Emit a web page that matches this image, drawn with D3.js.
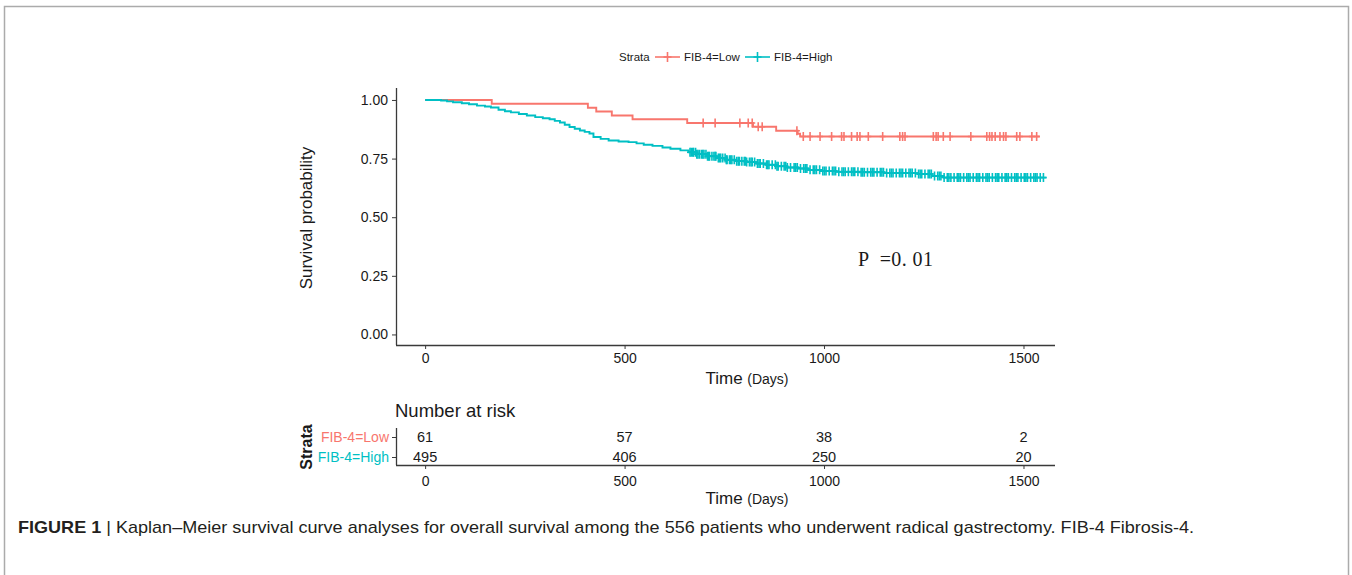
<!DOCTYPE html>
<html>
<head>
<meta charset="utf-8">
<script src="https://cdn.jsdelivr.net/npm/d3@7"></script>
<style>
  body { margin: 0; background: #fff; }
  svg { font-family: "Liberation Sans", Arial, sans-serif; }
</style>
</head>
<body>
<div id="chart"></div>
<script>
// ---- data ----
var strata = ["FIB-4=Low", "FIB-4=High"];
var colors = ["#F8766D", "#00BFC4"];

// step points (time, survival)
var lowTimes = [0, 167, 408, 429, 468, 520, 657, 822, 880, 934, 940];
var lowSurv  = [1.0, 0.984, 0.967, 0.951, 0.934, 0.918, 0.902, 0.886, 0.869, 0.856, 0.844];
var lowEnd = 1541;
var lowCensor = [697, 727, 789, 810, 820, 835, 845, 932, 948, 965, 990, 1019, 1044, 1050, 1069, 1083, 1090,
  1111, 1147, 1190, 1197, 1203, 1274, 1281, 1286, 1299, 1316, 1368, 1408, 1415, 1421, 1429, 1441, 1450,
  1456, 1483, 1491, 1521, 1533];

var highTimes = [0, 40, 55, 70, 92, 110, 130, 150, 165, 184, 200, 215, 235, 255, 276, 295, 312, 325, 338,
  350, 362, 375, 388, 400, 412, 422, 440, 460, 485, 510, 530, 548, 570, 595, 615, 640, 660, 680, 705, 730,
  755, 780, 805, 830, 855, 880, 905, 935, 960, 990, 1030, 1090, 1150, 1235, 1270, 1300];
var highSurv = [1.0, 0.998, 0.994, 0.990, 0.986, 0.982, 0.976, 0.972, 0.968, 0.958, 0.952, 0.947, 0.940,
  0.934, 0.927, 0.922, 0.918, 0.911, 0.904, 0.894, 0.885, 0.877, 0.870, 0.864, 0.857, 0.842, 0.834, 0.827,
  0.823, 0.820, 0.815, 0.809, 0.804, 0.797, 0.792, 0.785, 0.777, 0.769, 0.760, 0.752, 0.745, 0.739, 0.735,
  0.729, 0.724, 0.717, 0.712, 0.708, 0.702, 0.697, 0.694, 0.692, 0.688, 0.684, 0.676, 0.669];
var highEnd = 1558;
var highCensor = [664, 667, 671, 673, 678, 681, 684, 688, 693, 696, 699, 704, 708, 711, 713, 719, 724, 727,
  729, 735, 738, 741, 746, 752, 755, 757, 763, 766, 769, 775, 781, 785, 788, 794, 800, 803, 806, 813, 817,
  820, 826, 833, 837, 840, 848, 856, 859, 862, 870, 878, 882, 885, 893, 900, 904, 908, 916, 925, 929, 933,
  941, 949, 953, 957, 965, 973, 977, 981, 989, 997, 1001, 1005, 1013, 1021, 1025, 1029, 1037, 1045, 1049,
  1053, 1061, 1069, 1073, 1077, 1085, 1093, 1097, 1101, 1109, 1117, 1121, 1125, 1133, 1141, 1145, 1149,
  1157, 1165, 1169, 1173, 1181, 1189, 1193, 1197, 1205, 1213, 1217, 1221, 1229, 1237, 1241, 1245, 1253,
  1261, 1265, 1269, 1277, 1285, 1289, 1293, 1301, 1309, 1313, 1318, 1326, 1334, 1338, 1342, 1350, 1358,
  1362, 1366, 1374, 1382, 1386, 1390, 1398, 1406, 1410, 1414, 1422, 1430, 1434, 1438, 1446, 1454, 1458,
  1462, 1470, 1478, 1482, 1486, 1494, 1502, 1506, 1510, 1518, 1526, 1530, 1534, 1542, 1550];

var xTicks = [0, 500, 1000, 1500];
var yTicks = [0, 0.25, 0.5, 0.75, 1.0];
var riskLow  = [61, 57, 38, 2];
var riskHigh = [495, 406, 250, 20];

// ---- drawing ----
var W = 1352, H = 575;
var svg = d3.select("#chart").append("svg").attr("width", W).attr("height", H);

// figure frame
svg.append("path")
  .attr("d", "M4.5,575 V6.5 H1348.5 V575")
  .attr("fill", "none").attr("stroke", "#ababab").attr("stroke-width", 1.5);

var x = d3.scaleLinear().domain([-73, 1579]).range([396, 1055]);
var y = d3.scaleLinear().domain([-0.045, 1.051]).range([345, 88]);

var axisCol = "#3a3a3a", txtCol = "#1a1a1a";
var sans = "Liberation Sans, Arial, sans-serif";

// legend
var lg = svg.append("g").attr("font-size", 11.5).attr("fill", txtCol);
lg.append("text").attr("x", 619).attr("y", 61).text("Strata");
var legX = [655, 745];
strata.forEach(function(s, i) {
  var g = lg.append("g");
  g.append("line").attr("x1", legX[i]).attr("x2", legX[i] + 25).attr("y1", 57).attr("y2", 57)
    .attr("stroke", colors[i]).attr("stroke-width", 1.6);
  g.append("path").attr("d", "M" + (legX[i] + 12.5) + ",52v10M" + (legX[i] + 8.5) + ",57h8")
    .attr("stroke", colors[i]).attr("stroke-width", 1.6);
  g.append("text").attr("x", legX[i] + 29).attr("y", 61).text(s);
});

// axes of the main panel
var yAx = svg.append("g").attr("transform", "translate(396,0)")
  .call(d3.axisLeft(y).tickValues(yTicks).tickFormat(d3.format(".2f")).tickSize(4).tickPadding(4));
var xAx = svg.append("g").attr("transform", "translate(0,345)")
  .call(d3.axisBottom(x).tickValues(xTicks).tickFormat(d3.format("d")).tickSize(4).tickPadding(4));
[yAx, xAx].forEach(function(a) {
  a.select(".domain").attr("stroke", axisCol).attr("stroke-width", 1.3);
  a.selectAll(".tick line").attr("stroke", axisCol);
  a.selectAll(".tick text").attr("font-size", 14).attr("fill", txtCol).attr("font-family", sans);
});
xAx.select(".domain").attr("d", "M396,0.5H1055");
yAx.select(".domain").attr("d", "M0.5,88V345");

svg.append("text").attr("transform", "translate(312,218) rotate(-90)")
  .attr("text-anchor", "middle").attr("font-size", 17).attr("fill", txtCol).text("Survival probability");

function timeLabel(cx, cy) {
  var t = svg.append("text").attr("x", cx).attr("y", cy).attr("text-anchor", "middle").attr("fill", txtCol);
  t.append("tspan").attr("font-size", 17).text("Time ");
  t.append("tspan").attr("font-size", 14).text("(Days)");
}
timeLabel(747, 384);

// curves
function stepPath(times, surv, end) {
  var pts = times.map(function(t, i) { return [t, surv[i]]; });
  pts.push([end, surv[surv.length - 1]]);
  return d3.line().x(function(d) { return x(d[0]); }).y(function(d) { return y(d[1]); })
    .curve(d3.curveStepAfter)(pts);
}
function survAt(times, surv, t) {
  var i = d3.bisectRight(times, t) - 1;
  return surv[Math.max(0, i)];
}
var series = [
  {times: lowTimes, surv: lowSurv, end: lowEnd, cens: lowCensor, col: colors[0]},
  {times: highTimes, surv: highSurv, end: highEnd, cens: highCensor, col: colors[1]}
];
series.forEach(function(s) {
  svg.append("path").attr("d", stepPath(s.times, s.surv, s.end))
    .attr("fill", "none").attr("stroke", s.col).attr("stroke-width", 1.9);
  svg.append("g").selectAll("path").data(s.cens).enter().append("path")
    .attr("d", function(t) {
      var cx = x(t), cy = y(survAt(s.times, s.surv, t));
      return "M" + cx + "," + (cy - 4.5) + "v9M" + (cx - 3) + "," + cy + "h6";
    })
    .attr("stroke", s.col).attr("stroke-width", 1.6).attr("fill", "none");
});

// p-value
svg.append("text").attr("x", 858).attr("y", 266)
  .style("font-family", "'Liberation Serif', 'DejaVu Serif', serif").attr("font-size", 20).attr("fill", txtCol)
  .attr("xml:space", "preserve").attr("textLength", 75).attr("lengthAdjust", "spacing").text("P  =0. 01");

// ---- number at risk table ----
svg.append("text").attr("x", 395).attr("y", 417).attr("font-size", 18.5).attr("fill", txtCol).text("Number at risk");

var yr = d3.scalePoint().domain(strata).range([437, 457]);
var rY = svg.append("g").attr("transform", "translate(396,0)")
  .call(d3.axisLeft(yr).tickSize(4).tickPadding(3));
rY.select(".domain").attr("d", "M0.5,428V465").attr("stroke", axisCol).attr("stroke-width", 1.3);
rY.selectAll(".tick line").attr("stroke", axisCol);
rY.selectAll(".tick text").attr("font-size", 14).attr("font-family", sans)
  .attr("fill", function(d, i) { return colors[i]; });

var rX = svg.append("g").attr("transform", "translate(0,465)")
  .call(d3.axisBottom(x).tickValues(xTicks).tickFormat(d3.format("d")).tickSize(4).tickPadding(7));
rX.select(".domain").attr("d", "M396,0.5H1055").attr("stroke", axisCol).attr("stroke-width", 1.3);
rX.selectAll(".tick line").attr("stroke", axisCol);
rX.selectAll(".tick text").attr("font-size", 14).attr("fill", txtCol).attr("font-family", sans);

[riskLow, riskHigh].forEach(function(row, r) {
  svg.append("g").selectAll("text").data(row).enter().append("text")
    .attr("x", function(d, i) { return x(xTicks[i]); })
    .attr("y", yr(strata[r])).attr("dy", "0.35em")
    .attr("text-anchor", "middle").attr("font-size", 14.5).attr("fill", txtCol)
    .text(function(d) { return d; });
});

svg.append("text").attr("transform", "translate(312,447) rotate(-90)")
  .attr("text-anchor", "middle").attr("font-size", 16).attr("font-weight", "bold").attr("fill", txtCol)
  .text("Strata");
timeLabel(747, 504);

// caption
var cap = svg.append("text").attr("x", 18).attr("y", 533).attr("font-size", 17).attr("fill", "#231f20")
  .attr("textLength", 1176).attr("lengthAdjust", "spacingAndGlyphs");
cap.append("tspan").attr("font-weight", "bold").text("FIGURE 1");
cap.append("tspan").text(" | Kaplan–Meier survival curve analyses for overall survival among the 556 patients who underwent radical gastrectomy. FIB-4 Fibrosis-4.");
</script>
</body>
</html>
